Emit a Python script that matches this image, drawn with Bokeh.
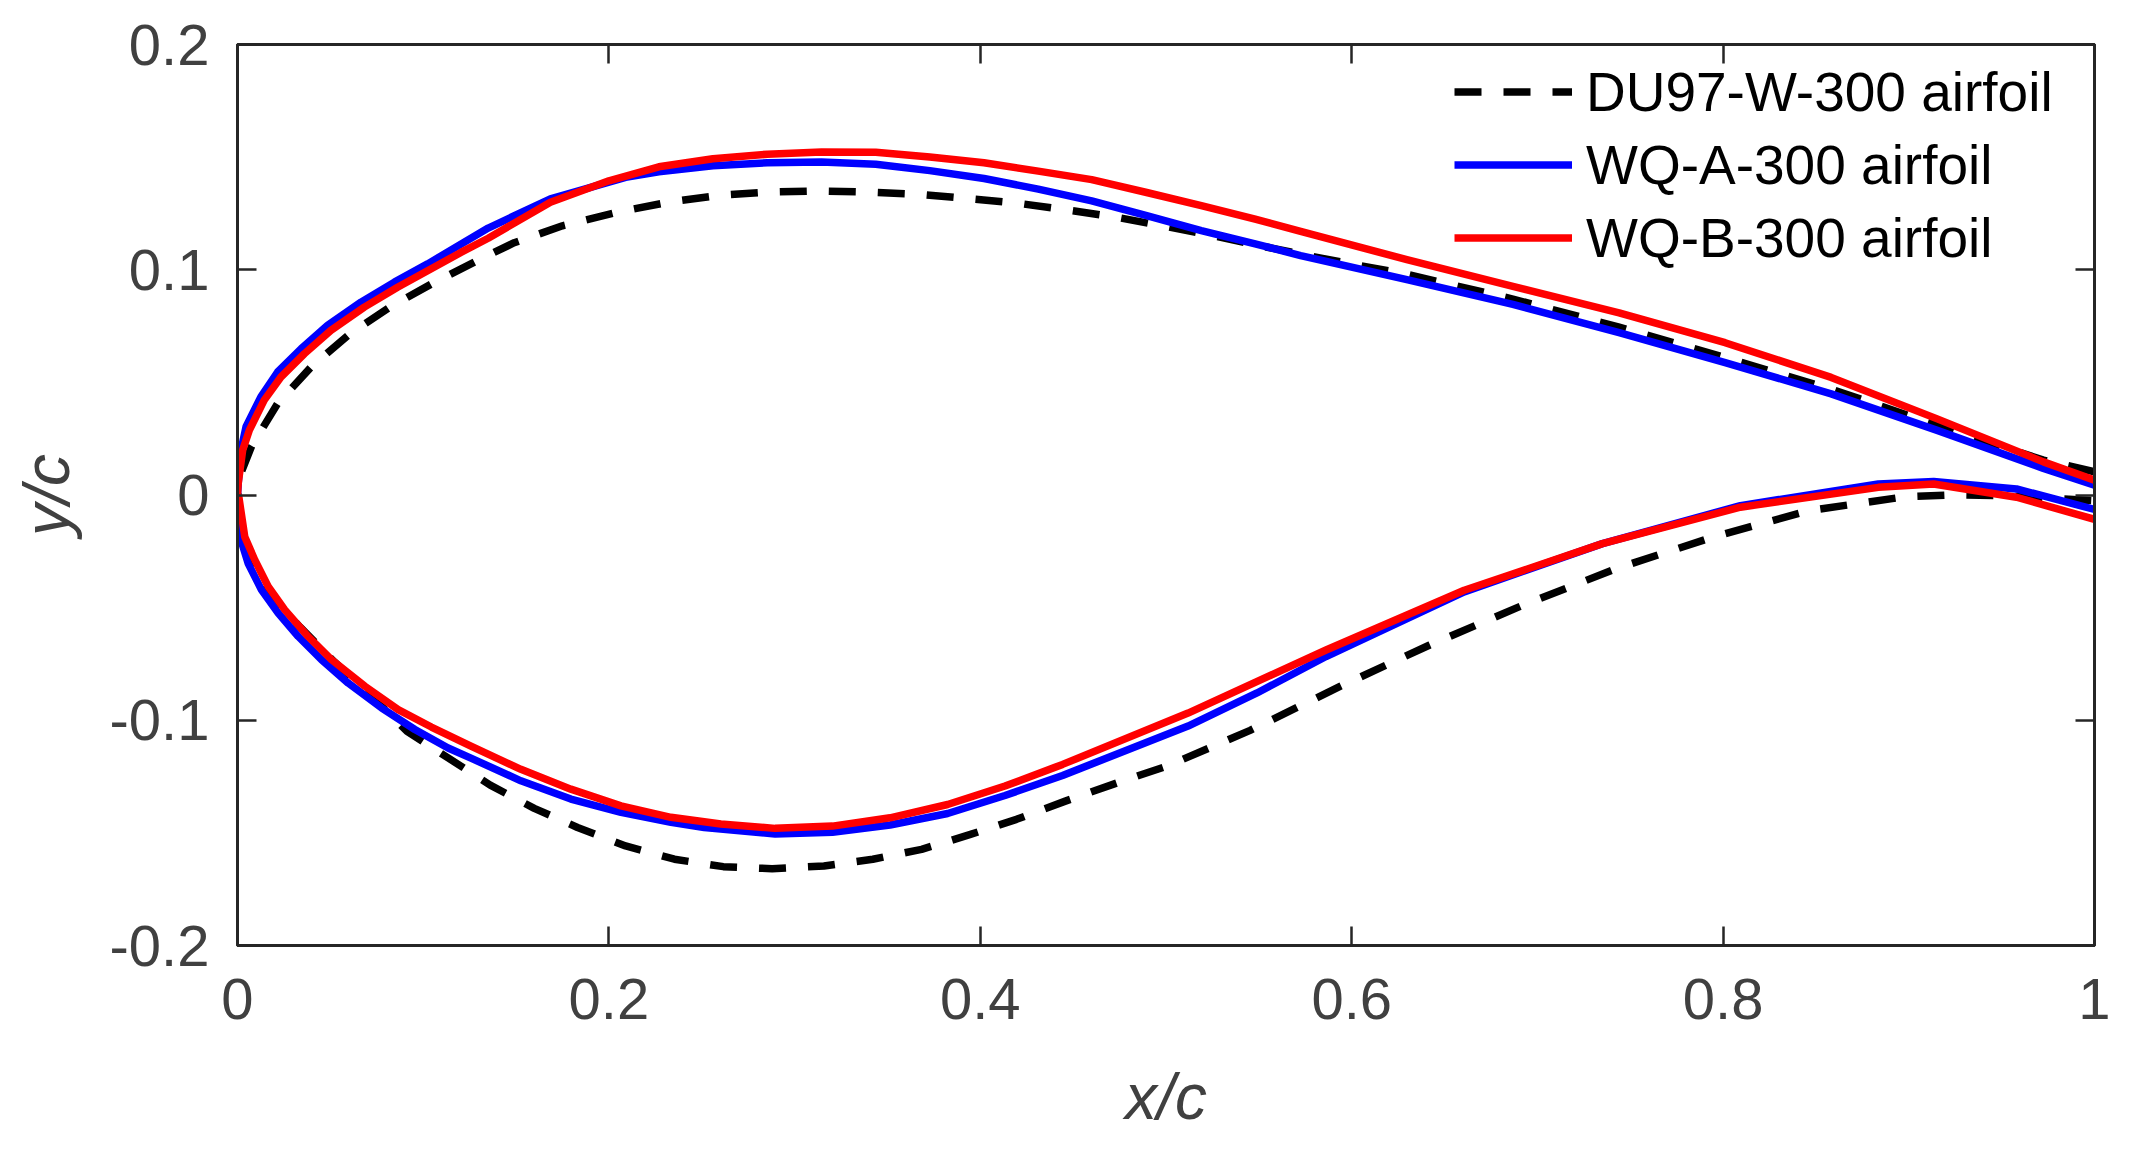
from bokeh.plotting import figure
from bokeh.models import (Range1d, LinearAxis, FixedTicker, CustomJSTickFormatter,
                          Legend, LegendItem)
from bokeh.embed import file_html
from bokeh.resources import INLINE

# ---------------- data ----------------
du_x_upper = [0, 0.0015, 0.0076, 0.0216, 0.0396, 0.0602, 0.0826, 0.1060, 0.1297, 0.1490,
              0.1750, 0.2064, 0.2327, 0.2590, 0.2867, 0.3130, 0.3407, 0.3670, 0.3933,
              0.4196, 0.4473, 0.4736, 0.5000, 0.5260, 0.5540, 0.5800, 0.6060, 0.6297,
              0.6868, 0.7440, 0.8011, 0.8582, 0.9153, 0.9725, 1.0]
du_y_upper = [0, 0.0090, 0.0217, 0.0406, 0.0568, 0.0713, 0.0837, 0.0944, 0.1043, 0.1120,
              0.1195, 0.1259, 0.1301, 0.1330, 0.1345, 0.1350, 0.1345, 0.1335, 0.1316,
              0.1296, 0.1265, 0.1233, 0.1192, 0.1150, 0.1101, 0.1057, 0.1016, 0.0980,
              0.0870, 0.0745, 0.0610, 0.0470, 0.0310, 0.0155, 0.0103]
du_x_lower = [0, 0.0020, 0.0075, 0.0150, 0.0336, 0.0524, 0.0707, 0.0913, 0.1134, 0.1361,
              0.1598, 0.1831, 0.2090, 0.2353, 0.2616, 0.2879, 0.3158, 0.3421, 0.3684,
              0.3947, 0.4195, 0.4458, 0.4747, 0.5007, 0.5453, 0.5937, 0.6420, 0.6922,
              0.7424, 0.7944, 0.8465, 0.8985, 0.9245, 0.9506, 1.0]
du_y_lower = [0, -0.0150, -0.0290, -0.0420, -0.0586, -0.0743, -0.0882, -0.1049, -0.1167,
              -0.1288, -0.1391, -0.1476, -0.1558, -0.1617, -0.1650, -0.1659, -0.1647,
              -0.1617, -0.1573, -0.1507, -0.1440, -0.1359, -0.1275, -0.1203, -0.1045,
              -0.0850, -0.0666, -0.0489, -0.0327, -0.0187, -0.0069, -0.0007, 0.0001,
              -0.0003, -0.0025]

wqa_x_upper = [0, 0.0004, 0.0019, 0.0046, 0.0126, 0.0216, 0.0342, 0.0485, 0.0665, 0.0845,
               0.1024, 0.1350, 0.1685, 0.2090, 0.2269, 0.2560, 0.2853, 0.3145, 0.3437,
               0.3728, 0.4020, 0.4312, 0.4600, 0.4896, 0.5190, 0.5480, 0.5725, 0.6297,
               0.6868, 0.7440, 0.8011, 0.8582, 0.9153, 0.9725, 1.0]
wqa_y_upper = [0, 0.0052, 0.0200, 0.0303, 0.0436, 0.0546, 0.0649, 0.0753, 0.0856, 0.0945,
               0.1026, 0.1185, 0.1315, 0.1410, 0.1435, 0.1462, 0.1475, 0.1478, 0.1468,
               0.1440, 0.1405, 0.1358, 0.1306, 0.1240, 0.1174, 0.1115, 0.1063, 0.0956,
               0.0846, 0.0721, 0.0588, 0.0449, 0.0287, 0.0118, 0.0044]
wqa_x_lower = [0, 0.0013, 0.0057, 0.0129, 0.0219, 0.0327, 0.0452, 0.0596, 0.0775, 0.0955,
               0.1134, 0.1257, 0.1526, 0.1795, 0.2065, 0.2334, 0.2513, 0.2895, 0.3204,
               0.3514, 0.3824, 0.4133, 0.4443, 0.5119, 0.5490, 0.5862, 0.6606, 0.7350,
               0.8093, 0.8836, 0.9134, 0.9580, 1.0]
wqa_y_lower = [0, -0.0185, -0.0303, -0.0421, -0.0524, -0.0628, -0.0731, -0.0835, -0.0945,
               -0.1041, -0.1123, -0.1168, -0.1269, -0.1350, -0.1409, -0.1453, -0.1476,
               -0.1505, -0.1497, -0.1465, -0.1414, -0.1334, -0.1245, -0.1026, -0.0879,
               -0.0717, -0.0430, -0.0216, -0.0047, 0.0049, 0.0060, 0.0027, -0.0064]

wqb_x_upper = [0, 0.0004, 0.0028, 0.0064, 0.0144, 0.0234, 0.0360, 0.0503, 0.0683, 0.0862,
               0.1041, 0.1203, 0.1350, 0.1685, 0.2000, 0.2269, 0.2560, 0.2853, 0.3145,
               0.3437, 0.3728, 0.4020, 0.4312, 0.4600, 0.4896, 0.5190, 0.5480, 0.5725,
               0.6297, 0.6868, 0.7440, 0.8011, 0.8582, 0.9153, 0.9725, 1.0]
wqb_y_upper = [0, 0.0052, 0.0200, 0.0288, 0.0421, 0.0524, 0.0627, 0.0731, 0.0834, 0.0922,
               0.1003, 0.1077, 0.1140, 0.1300, 0.1395, 0.1457, 0.1493, 0.1513, 0.1523,
               0.1522, 0.1501, 0.1475, 0.1438, 0.1400, 0.1343, 0.1285, 0.1225, 0.1170,
               0.1045, 0.0926, 0.0809, 0.0676, 0.0522, 0.0338, 0.0147, 0.0066]
wqb_x_lower = [0, 0.0007, 0.0039, 0.0093, 0.0165, 0.0255, 0.0380, 0.0506, 0.0686, 0.0865,
               0.1044, 0.1257, 0.1526, 0.1795, 0.2065, 0.2334, 0.2603, 0.2895, 0.3204,
               0.3514, 0.3824, 0.4133, 0.4443, 0.5119, 0.5862, 0.6606, 0.7350, 0.8093,
               0.8836, 0.9134, 0.9580, 1.0]
wqb_y_lower = [0, -0.0007, -0.0185, -0.0288, -0.0406, -0.0510, -0.0628, -0.0731, -0.0849,
               -0.0953, -0.1030, -0.1115, -0.1218, -0.1306, -0.1380, -0.1431, -0.1461,
               -0.1480, -0.1470, -0.1433, -0.1374, -0.1292, -0.1196, -0.0968, -0.0688,
               -0.0423, -0.0216, -0.0054, 0.0034, 0.0049, -0.0010, -0.0108]

labels = ["DU97-W-300 airfoil", "WQ-A-300 airfoil", "WQ-B-300 airfoil"]
x_ticks = [0, 0.2, 0.4, 0.6, 0.8, 1.0]
y_ticks = [-0.2, -0.1, 0, 0.1, 0.2]
x_label = "x/c"
y_label = "y/c"

# ---------------- figure ----------------
FONT = "Liberation Sans"
AX_COLOR = "#262626"
TXT_COLOR = "#404040"

p = figure(width=2116, height=1135,
           x_range=Range1d(0, 1), y_range=Range1d(-0.2, 0.2),
           output_backend="svg", toolbar_location=None,
           min_border_left=237, min_border_right=22,
           min_border_top=44, min_border_bottom=188)
p.xgrid.visible = False
p.ygrid.visible = False
p.background_fill_color = "white"
p.border_fill_color = "white"
p.outline_line_color = AX_COLOR
p.outline_line_width = 3

fmt = CustomJSTickFormatter(code="return tick.toFixed(1).replace(/\\.0$/, '');")
blank = CustomJSTickFormatter(code="return '';")


def style_axis(ax, ticks, show_labels):
    ax.ticker = FixedTicker(ticks=ticks)
    ax.axis_line_color = AX_COLOR
    ax.axis_line_width = 3
    ax.major_tick_line_color = AX_COLOR
    ax.major_tick_line_width = 2.5
    ax.major_tick_in = 19
    ax.major_tick_out = 0
    ax.minor_tick_line_color = None
    if show_labels:
        ax.formatter = fmt
        ax.major_label_text_font = FONT
        ax.major_label_text_font_size = "58px"
        ax.major_label_text_color = TXT_COLOR
        ax.axis_label_text_font = FONT
        ax.axis_label_text_font_size = "64px"
        ax.axis_label_text_font_style = "italic"
        ax.axis_label_text_color = TXT_COLOR
    else:
        ax.formatter = blank
        ax.major_label_text_font_size = "0px"


xaxis = p.below[0]
yaxis = p.left[0]
style_axis(xaxis, x_ticks, True)
style_axis(yaxis, y_ticks, True)
xaxis.axis_label = x_label
yaxis.axis_label = y_label
xaxis.major_label_standoff = 33
yaxis.major_label_standoff = 28
xaxis.axis_label_standoff = 39
yaxis.axis_label_standoff = 24

top_axis = LinearAxis()
right_axis = LinearAxis()
style_axis(top_axis, x_ticks, False)
style_axis(right_axis, y_ticks, False)
p.add_layout(top_axis, "above")
p.add_layout(right_axis, "right")

# ---------------- curves ----------------
def contour(xu, yu, xl, yl):
    return xu[::-1] + xl[1:], yu[::-1] + yl[1:]

series = [
    (du_x_upper, du_y_upper, du_x_lower, du_y_lower, "black", "27 22"),
    (wqa_x_upper, wqa_y_upper, wqa_x_lower, wqa_y_lower, "#0000FF", "solid"),
    (wqb_x_upper, wqb_y_upper, wqb_x_lower, wqb_y_lower, "#FF0000", "solid"),
]
items = []
for (xu, yu, xl, yl, color, dash), lab in zip(series, labels):
    xs, ys = contour(xu, yu, xl, yl)
    r = p.line(xs, ys, line_color=color, line_width=7.5, line_dash=dash,
               line_join="round", line_cap="butt")
    items.append(LegendItem(label=lab, renderers=[r]))

legend = Legend(items=items, location=(1217, 671),
                glyph_width=118, glyph_height=73, label_height=73,
                label_standoff=14, spacing=0, padding=0, margin=0,
                label_text_font=FONT, label_text_font_size="55px",
                label_text_color="black",
                border_line_alpha=0, background_fill_alpha=0)
p.add_layout(legend)

open("out.html", "w").write(file_html(p, INLINE))
